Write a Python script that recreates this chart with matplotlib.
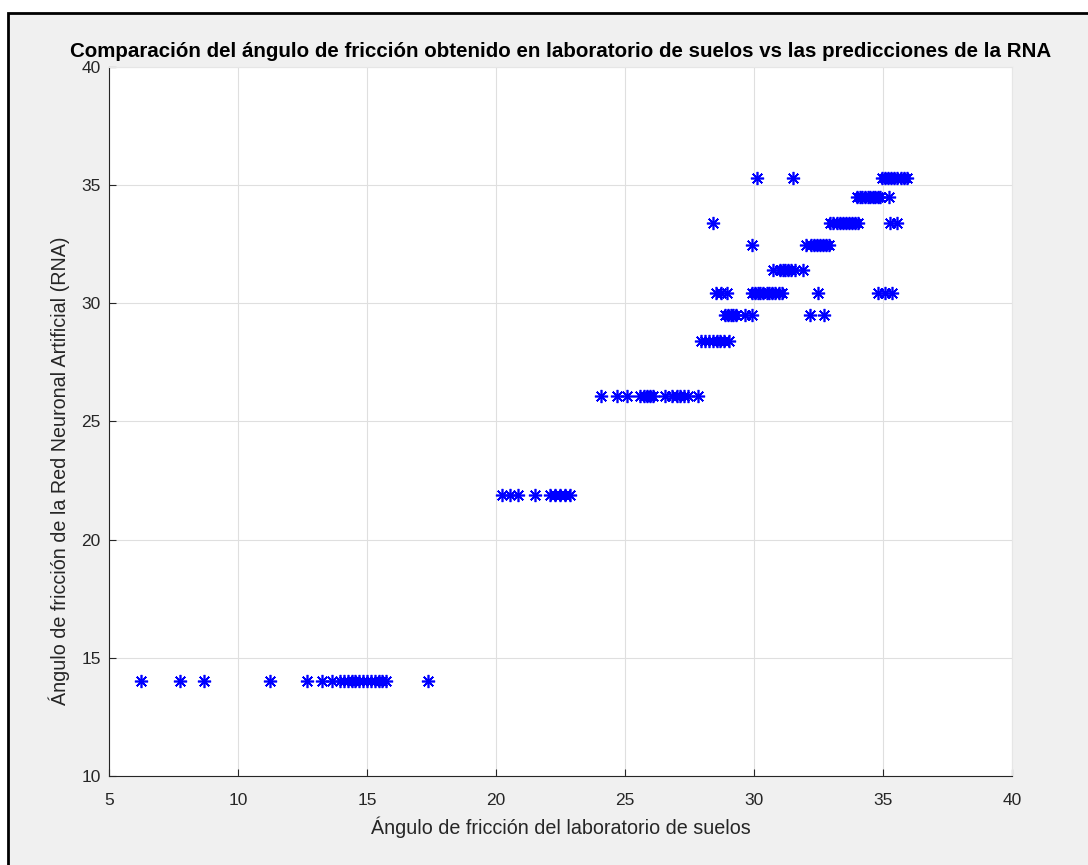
import matplotlib
matplotlib.use("Agg")
import matplotlib.pyplot as plt
from matplotlib.patches import Rectangle

# lab friction angle (x) grouped by the network's predicted angle (y level)
lvl_14 = [6.24, 7.75, 8.68, 11.24, 12.67, 13.26, 13.64, 13.95, 14.1, 14.25, 14.4,
          14.55, 14.7, 14.85, 15.0, 15.15, 15.3, 15.45, 15.6, 15.75, 17.36]
lvl_219 = [20.23, 20.54, 20.85, 21.51, 22.09, 22.29, 22.48, 22.67, 22.87]
lvl_261 = [24.07, 24.69, 25.08, 25.58, 25.72, 25.85, 25.97, 26.1, 26.55, 26.82,
           27.0, 27.13, 27.3, 27.44, 27.83]
lvl_284 = [27.95, 28.1, 28.25, 28.4, 28.55, 28.7, 28.85, 29.05]
lvl_295 = [28.88, 29.0, 29.1, 29.2, 29.3, 29.65, 29.92, 32.17, 32.71]
lvl_305 = [28.53, 28.72, 28.95, 29.92, 30.05, 30.15, 30.25, 30.35, 30.5, 30.6,
           30.7, 30.8, 30.95, 31.09, 32.48, 34.8, 35.08, 35.36]
lvl_314 = [30.74, 31.01, 31.12, 31.22, 31.32, 31.45, 31.59, 31.9]
lvl_325 = [29.92, 32.02, 32.2, 32.32, 32.44, 32.56, 32.68, 32.8, 32.91]
lvl_334 = [28.4, 32.95, 33.08, 33.2, 33.32, 33.44, 33.56, 33.68, 33.8, 33.92, 34.03,
           35.27, 35.54]
lvl_345 = [33.99, 34.1, 34.2, 34.3, 34.4, 34.5, 34.6, 34.7, 34.8, 34.9, 35.23]
lvl_353 = [30.1, 31.5, 34.96, 35.08, 35.2, 35.32, 35.44, 35.56, 35.68, 35.8, 35.92]

groups = [(lvl_14, 14.0), (lvl_219, 21.9), (lvl_261, 26.1), (lvl_284, 28.4),
          (lvl_295, 29.5), (lvl_305, 30.45), (lvl_314, 31.4), (lvl_325, 32.45),
          (lvl_334, 33.4), (lvl_345, 34.5), (lvl_353, 35.3)]

lab = [x for xs, _ in groups for x in xs]
rna = [y for xs, y in groups for _ in xs]

plt.rcParams['font.family'] = ['Liberation Sans', 'DejaVu Sans']

fig = plt.figure(figsize=(10.88, 8.65), dpi=100, facecolor='white')
# grey window panel with a dark frame on top/left
fig.patches.append(Rectangle((8 / 1088, -0.05), 1.1, 1.05 - 13 / 865,
                             transform=fig.transFigure, facecolor='#f0f0f0',
                             edgecolor='black', linewidth=2, zorder=-5))

ax = fig.add_axes([109 / 1088, 1 - 776 / 865, 903 / 1088, 709 / 865])
ax.set_zorder(1)
ax.set_facecolor('white')
# 8-armed asterisk marker
ax.plot(lab, rna, linestyle='none', marker=(8, 2, 0), color='blue',
        markersize=9.5, markeredgewidth=1.2, zorder=3)

ax.set_xlim(5, 40)
ax.set_ylim(10, 40)
ax.set_xticks(range(5, 41, 5))
ax.set_yticks(range(10, 41, 5))
ax.grid(True, color='#dfdfdf', linewidth=0.8)
ax.set_axisbelow(True)

for side in ['top', 'right']:
    ax.spines[side].set_color('#e6e6e6')
for side in ['left', 'bottom']:
    ax.spines[side].set_color('#262626')
    ax.spines[side].set_linewidth(0.8)
ax.tick_params(direction='in', length=5, width=0.8, colors='#262626',
               labelsize=12.5, top=False, right=False)
ax.tick_params(axis='x', pad=12)
ax.tick_params(axis='y', pad=6)

ax.set_title('Comparación del ángulo de fricción obtenido en laboratorio de suelos vs las predicciones de la RNA',
             fontsize=14.8, fontweight='bold', pad=7)
ax.set_xlabel('Ángulo de fricción del laboratorio de suelos', fontsize=14.2,
              color='#262626', labelpad=6)
ax.set_ylabel('Ángulo de fricción de la Red Neuronal Artificial (RNA)', fontsize=14.2,
              color='#262626')
ax.yaxis.set_label_coords(-0.043, 0.43)

fig.savefig('out.png', dpi=100, facecolor=fig.get_facecolor())
